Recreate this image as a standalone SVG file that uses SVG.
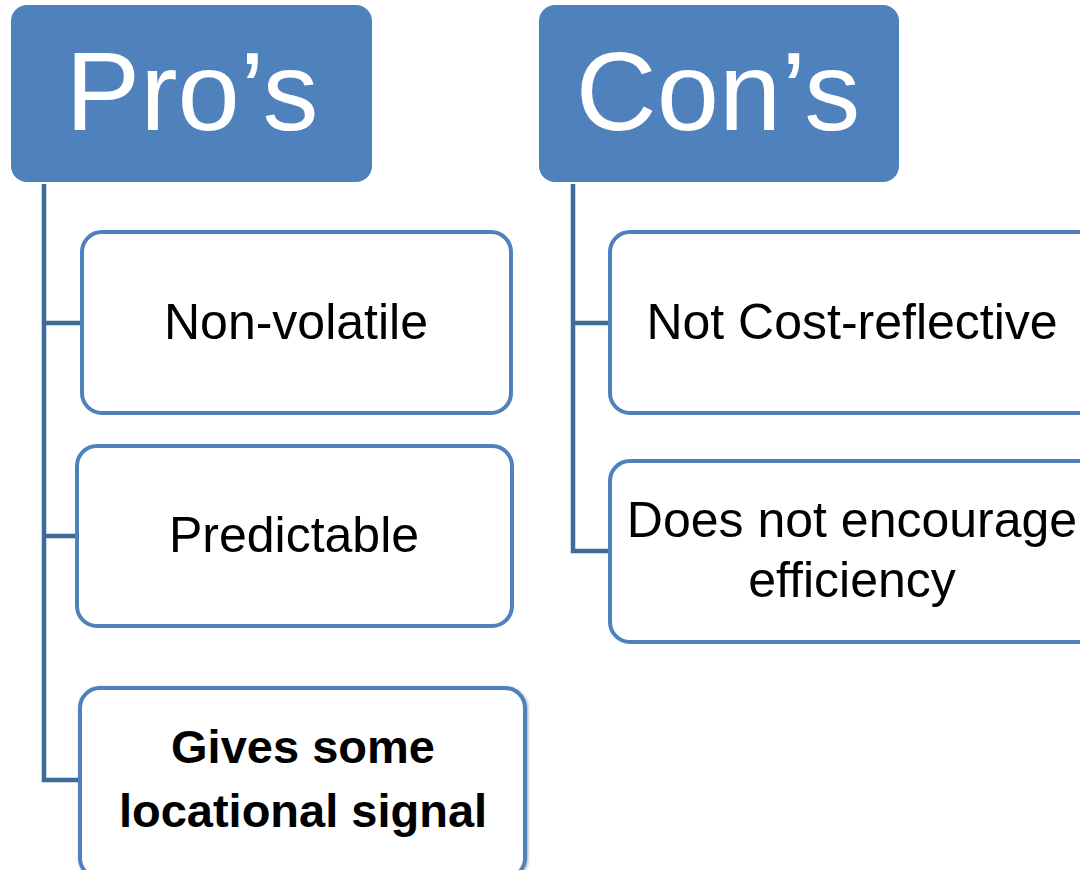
<svg xmlns="http://www.w3.org/2000/svg" width="1080" height="870" viewBox="0 0 1080 870">
<defs>
<style>
.hdr{fill:#4F81BD}
.hdrtxt{font-family:"Liberation Sans",Arial,sans-serif;font-size:112px;fill:#ffffff;text-anchor:middle}
.box{fill:#ffffff;stroke:#4F81BD;stroke-width:4}
.txt{font-family:"Liberation Sans",Arial,sans-serif;font-size:50px;fill:#000000;text-anchor:middle}
.bold{font-weight:bold;font-size:47px}
.conn{fill:none;stroke:#41699C;stroke-width:4.5;stroke-linejoin:miter}
</style>
<filter id="sh" x="-5%" y="-5%" width="110%" height="110%">
<feDropShadow dx="1" dy="1" stdDeviation="1.5" flood-color="#000" flood-opacity="0.35"/>
</filter>
</defs>
<rect width="1080" height="870" fill="#ffffff"/>
<g id="connectors">
<path class="conn" d="M44 184 V780 H80 M44 323 H82 M44 536 H78"/>
<path class="conn" d="M573 184 V551 H610 M573 323 H610"/>
</g>
<g id="pros">
<rect class="hdr" x="11" y="5" width="361" height="177" rx="16"/>
<text class="hdrtxt" x="192" y="130">Pro’s</text>
</g>
<g id="cons">
<rect class="hdr" x="539" y="5" width="360" height="177" rx="16"/>
<text class="hdrtxt" x="718" y="130">Con’s</text>
</g>
<g id="non-volatile">
<rect class="box" x="82" y="232" width="429" height="181" rx="20"/>
<text class="txt" x="296" y="339">Non-volatile</text>
</g>
<g id="predictable">
<rect class="box" x="77" y="446" width="435" height="180" rx="20"/>
<text class="txt" x="294" y="552">Predictable</text>
</g>
<g id="locational">
<rect class="box" x="80" y="688" width="445" height="190" rx="20" filter="url(#sh)" stroke="#5A8AC4"/>
<text class="txt bold" x="303" y="763">Gives some</text>
<text class="txt bold" x="303" y="827">locational signal</text>
</g>
<g id="not-cost-reflective">
<rect class="box" x="610" y="232" width="500" height="181" rx="20"/>
<text class="txt" x="852" y="339">Not Cost-reflective</text>
</g>
<g id="efficiency">
<rect class="box" x="610" y="461" width="500" height="181" rx="20"/>
<text class="txt" x="852" y="537">Does not encourage</text>
<text class="txt" x="852" y="597">efficiency</text>
</g>
</svg>
